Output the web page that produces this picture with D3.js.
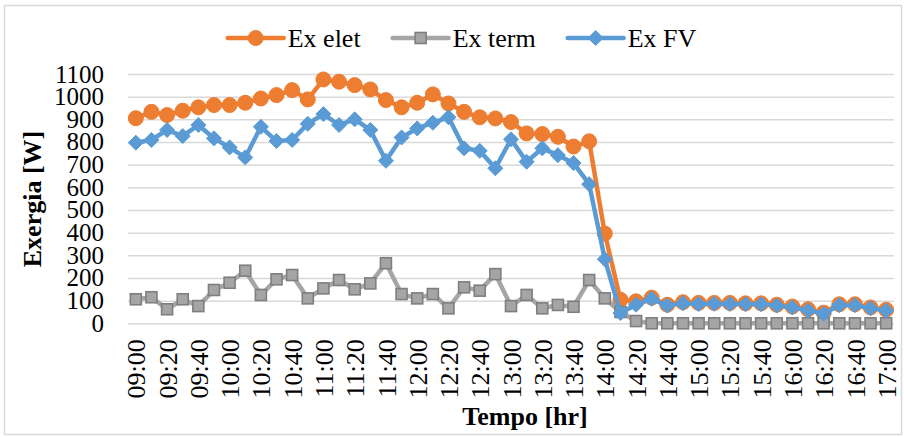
<!DOCTYPE html>
<html>
<head>
<meta charset="utf-8">
<script src="https://cdn.jsdelivr.net/npm/d3@7"></script>
<style>
  html, body { margin: 0; padding: 0; background: #fff; }
  svg { display: block; }
  text { font-family: "Liberation Serif", "Times New Roman", serif; fill: #000; }
</style>
</head>
<body>
<svg id="chart" width="904" height="437"></svg>
<script>
// Time of day, every 10 minutes from 09:00 to 17:00
const times = [
  "09:00","09:10","09:20","09:30","09:40","09:50",
  "10:00","10:10","10:20","10:30","10:40","10:50",
  "11:00","11:10","11:20","11:30","11:40","11:50",
  "12:00","12:10","12:20","12:30","12:40","12:50",
  "13:00","13:10","13:20","13:30","13:40","13:50",
  "14:00","14:10","14:20","14:30","14:40","14:50",
  "15:00","15:10","15:20","15:30","15:40","15:50",
  "16:00","16:10","16:20","16:30","16:40","16:50",
  "17:00"
];

// Electrical exergy [W]
const exElet = [
  905, 933, 919, 938, 953, 963,
  963, 973, 992, 1007, 1029, 988,
  1076, 1066, 1051, 1032, 985, 953,
  973, 1010, 970, 933, 909, 904,
  888, 838, 835, 823, 780, 803,
  396, 104, 97, 113, 82, 93,
  90, 90, 90, 88, 88, 82,
  74, 62, 47, 84, 84, 70,
  60
];

// Thermal exergy [W]
const exTerm = [
  106, 115, 62, 106, 76, 147,
  179, 232, 125, 194, 213, 110,
  154, 191, 150, 176, 265, 129,
  110, 129, 66, 159, 144, 217,
  76, 125, 66, 81, 73, 191,
  110, 50, 10, 0, 0, 0,
  0, 0, 0, 0, 0, 0,
  0, 0, 0, 0, 0, 0,
  0
];

// PV exergy [W]
const exFV = [
  797, 809, 853, 826, 875, 816,
  776, 732, 867, 804, 809, 880,
  923, 875, 900, 853, 717, 820,
  860, 885, 909, 772, 761, 684,
  812, 713, 772, 742, 707, 614,
  283, 45, 82, 108, 78, 88,
  85, 86, 85, 84, 84, 78,
  70, 57, 42, 80, 80, 66,
  56
];

// Labelled ticks: every 20 minutes
const timeTicks = times.filter((t, i) => i % 2 === 0);
const yTicks = d3.range(0, 1101, 100);

const series = [
  { name: "Ex elet", values: exElet, color: "#ED7D31", marker: "circle" },
  { name: "Ex term", values: exTerm, color: "#A5A5A5", marker: "square" },
  { name: "Ex FV",   values: exFV,   color: "#5B9BD5", marker: "diamond" }
];

const svg = d3.select("#chart");
const W = 904, H = 437;
const plot = { left: 128, right: 894, top: 74, bottom: 323.3 };

// Chart frame
svg.append("rect")
  .attr("x", 4.5).attr("y", 5.5)
  .attr("width", 897).attr("height", 429)
  .attr("fill", "#fff")
  .attr("stroke", "#D9D9D9").attr("stroke-width", 1.5);

const x = d3.scalePoint().domain(times).range([plot.left, plot.right]).padding(0.5);
const y = d3.scaleLinear().domain([0, 1100]).range([plot.bottom, plot.top]);

// Y axis with horizontal gridlines
const yAxis = svg.append("g")
  .attr("transform", `translate(${plot.left},0)`)
  .call(d3.axisLeft(y).tickValues(yTicks).tickFormat(d3.format("d"))
    .tickSize(-(plot.right - plot.left)).tickPadding(24));
yAxis.select(".domain").remove();
yAxis.selectAll(".tick line").attr("stroke", "#D9D9D9").attr("stroke-width", 1.5);
yAxis.selectAll(".tick text")
  .attr("font-size", 25).attr("font-family", "Liberation Serif").attr("fill", "#000");

// X axis with rotated time labels
const xAxis = svg.append("g")
  .attr("transform", `translate(0,${plot.bottom})`)
  .call(d3.axisBottom(x).tickValues(timeTicks).tickSize(0).tickPadding(0));
xAxis.select(".domain").remove();
xAxis.selectAll(".tick text")
  .attr("font-size", 26).attr("font-family", "Liberation Serif").attr("fill", "#000")
  .attr("text-anchor", "end")
  .attr("transform", "rotate(-90)")
  .attr("x", -16).attr("y", 0).attr("dy", "0.35em");

// Axis titles
svg.append("text")
  .attr("x", 525).attr("y", 425)
  .attr("text-anchor", "middle")
  .attr("font-size", 26).attr("font-weight", "bold")
  .text("Tempo [hr]");

svg.append("text")
  .attr("transform", "translate(41,199) rotate(-90)")
  .attr("text-anchor", "middle")
  .attr("font-size", 26).attr("font-weight", "bold")
  .text("Exergia [W]");

// Marker shapes
function drawMarker(g, type, color, cx, cy) {
  if (type === "circle") {
    g.append("circle").attr("cx", cx).attr("cy", cy).attr("r", 7.5)
      .attr("fill", color).attr("stroke", color).attr("stroke-width", 1);
  } else if (type === "square") {
    g.append("rect").attr("x", cx - 5.5).attr("y", cy - 5.5)
      .attr("width", 11).attr("height", 11)
      .attr("fill", color).attr("stroke", "#7F7F7F").attr("stroke-width", 1.6);
  } else {
    const r = 7.5;
    g.append("path")
      .attr("d", `M${cx},${cy - r}L${cx + r},${cy}L${cx},${cy + r}L${cx - r},${cy}Z`)
      .attr("fill", color).attr("stroke", color).attr("stroke-width", 1);
  }
}

const line = d3.line().x((d, i) => x(times[i])).y(d => y(d));

series.forEach(s => {
  const g = svg.append("g");
  g.append("path")
    .datum(s.values)
    .attr("d", line)
    .attr("fill", "none")
    .attr("stroke", s.color)
    .attr("stroke-width", 4.5)
    .attr("stroke-linejoin", "round")
    .attr("stroke-linecap", "round");
  s.values.forEach((v, i) => drawMarker(g, s.marker, s.color, x(times[i]), y(v)));
});

// Legend
const legend = svg.append("g");
const legendY = 38;
let cursor = 0;
const items = [];
series.forEach(s => {
  const g = legend.append("g").attr("transform", `translate(${cursor},0)`);
  g.append("line").attr("x1", 0).attr("x2", 56).attr("y1", legendY).attr("y2", legendY)
    .attr("stroke", s.color).attr("stroke-width", 4.5).attr("stroke-linecap", "round");
  drawMarker(g, s.marker, s.color, 28, legendY);
  const t = g.append("text").attr("x", 60).attr("y", legendY).attr("dy", "0.33em")
    .attr("font-size", 26).text(s.name);
  const w = 60 + t.node().getComputedTextLength();
  cursor += w + 32;
});
const legendWidth = cursor - 32;
legend.attr("transform", `translate(${462 - legendWidth / 2},0)`);
</script>
</body>
</html>
